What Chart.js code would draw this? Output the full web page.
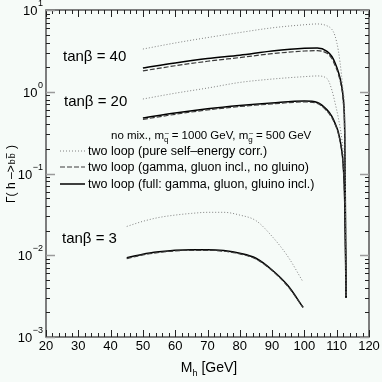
<!DOCTYPE html>
<html>
<head>
<meta charset="utf-8">
<script src="https://cdn.jsdelivr.net/npm/chart.js@4"></script>
<style>
  html, body { margin: 0; padding: 0; background: #f6fbf8; }
  #wrap { width: 382px; height: 382px; }
</style>
</head>
<body>
<div id="wrap"><canvas id="chart" width="382" height="382"></canvas></div>
<script>
// Higgs mass grids [GeV]
const massHigh = [50, 60, 70, 80, 90, 100, 104, 107, 108.5, 109.5, 110.5, 111.5, 112, 112.5, 112.9];
const massLow = [45, 50, 55, 60, 65, 70, 75, 80, 85, 90, 95, 99.6];

// Gamma(h -> b bbar) [GeV]
const tb40Pure = [3.33, 3.95, 4.6, 5.3, 6.05, 6.6, 6.75, 6.4, 5.8, 4.8, 3.2, 1.6, 1.0, 0.45, 0.003];
const tb40NoGluino = [1.8, 2.08, 2.36, 2.62, 2.92, 3.15, 3.18, 2.95, 2.55, 2.1, 1.65, 1.12, 0.78, 0.25, 0.003];
const tb40Full = [1.95, 2.25, 2.55, 2.8, 3.15, 3.4, 3.42, 3.12, 2.7, 2.25, 1.75, 1.2, 0.85, 0.3, 0.003];

const tb20Pure = [0.815, 0.96, 1.11, 1.3, 1.43, 1.53, 1.56, 1.45, 1.05, 0.73, 0.48, 0.28, 0.18, 0.06, 0.003];
const tb20NoGluino = [0.46, 0.53, 0.6, 0.66, 0.71, 0.75, 0.72, 0.58, 0.48, 0.4, 0.31, 0.195, 0.125, 0.04, 0.003];
const tb20Full = [0.477, 0.55, 0.62, 0.68, 0.73, 0.77, 0.74, 0.6, 0.5, 0.41, 0.32, 0.2, 0.13, 0.042, 0.003];

const tb3Pure = [0.0225, 0.026, 0.029, 0.031, 0.0325, 0.0335, 0.0335, 0.031, 0.0265, 0.017, 0.0095, 0.0047];
const tb3NoGluino = [0.0091, 0.0101, 0.0108, 0.0113, 0.0115, 0.0115, 0.0112, 0.0104, 0.009, 0.0065, 0.0041, 0.0023];
const tb3Full = [0.0093, 0.0103, 0.011, 0.0115, 0.0117, 0.0117, 0.0114, 0.0106, 0.0092, 0.0066, 0.0042, 0.0023];

const xTicks = [20, 30, 40, 50, 60, 70, 80, 90, 100, 110, 120];
const yDecades = [-3, -2, -1, 0, 1];
const tanbLabels = ['tanβ = 40', 'tanβ = 20', 'tanβ = 3'];
const legendLabels = [
  'two loop (pure self\u2013energy corr.)',
  'two loop (gamma, gluon incl., no gluino)',
  'two loop (full: gamma, gluon, gluino incl.)'
];

const FONT = '"Liberation Sans", Arial, Helvetica, sans-serif';
const BG = '#f6fbf8';

// line styles: pure, no gluino, full
const styles = [
  { borderColor: '#808080', borderWidth: 1, borderDash: [1, 2] },
  { borderColor: '#3a3a3a', borderWidth: 1.2, borderDash: [5, 2] },
  { borderColor: '#000000', borderWidth: 1.5, borderDash: [] }
];

function makeSet(label, xs, ys, styleIdx) {
  const s = styles[styleIdx];
  return {
    label: label,
    data: xs.map((m, i) => ({ x: m, y: ys[i] })),
    borderColor: s.borderColor,
    borderWidth: s.borderWidth,
    borderDash: s.borderDash,
    pointRadius: 0,
    fill: false,
    cubicInterpolationMode: 'monotone'
  };
}

function pow10(ctx, exp, xRight, y) {
  ctx.font = '9px ' + FONT;
  const e = String(exp).replace('-', '\u2212');
  const ew = ctx.measureText(e).width;
  ctx.textAlign = 'left';
  ctx.fillText(e, xRight - ew, y - 4);
  ctx.font = '13px ' + FONT;
  ctx.textAlign = 'right';
  ctx.fillText('10', xRight - ew - 0.5, y + 5);
}

const axesPlugin = {
  id: 'axesPlugin',
  beforeDraw(chart) {
    const ctx = chart.ctx;
    ctx.save();
    ctx.fillStyle = BG;
    ctx.fillRect(0, 0, chart.width, chart.height);
    ctx.restore();
  },
  afterDraw(chart) {
    const ctx = chart.ctx;
    const a = chart.chartArea;
    const xs = chart.scales.x;
    const ys = chart.scales.y;
    ctx.save();

    // frame
    ctx.strokeStyle = '#555';
    ctx.lineWidth = 1.5;
    ctx.strokeRect(a.left, a.top, a.right - a.left, a.bottom - a.top);

    // x ticks (inward, bottom and top)
    ctx.strokeStyle = '#222';
    ctx.lineWidth = 1;
    for (let v = 20; v <= 120; v += 2) {
      const px = Math.round(xs.getPixelForValue(v)) + 0.5;
      const len = v % 10 === 0 ? 7 : 4;
      ctx.beginPath();
      ctx.moveTo(px, a.bottom); ctx.lineTo(px, a.bottom - len);
      ctx.moveTo(px, a.top); ctx.lineTo(px, a.top + len);
      ctx.stroke();
    }

    // y ticks (inward, left and right)
    for (let d = -3; d <= 1; d++) {
      for (let k = 1; k <= 9; k++) {
        if (d === 1 && k > 1) break;
        const py = Math.round(ys.getPixelForValue(k * Math.pow(10, d))) + 0.5;
        const major = k === 1;
        ctx.strokeStyle = major ? '#9a9a9a' : '#222';
        ctx.lineWidth = major ? 1.5 : 1;
        const len = major ? 9 : 4;
        ctx.beginPath();
        ctx.moveTo(a.left, py); ctx.lineTo(a.left + len, py);
        ctx.moveTo(a.right, py); ctx.lineTo(a.right - len, py);
        ctx.stroke();
      }
    }

    // tick labels
    ctx.fillStyle = '#000';
    ctx.font = '13px ' + FONT;
    ctx.textAlign = 'center';
    ctx.textBaseline = 'alphabetic';
    xTicks.forEach(v => ctx.fillText(String(v), xs.getPixelForValue(v), 350));
    yDecades.forEach(d => pow10(ctx, d, 43, ys.getPixelForValue(Math.pow(10, d))));

    // x title: M_h [GeV]
    ctx.font = '14px ' + FONT;
    ctx.textAlign = 'left';
    const wM = ctx.measureText('M').width;
    const wG = ctx.measureText(' [GeV]').width;
    ctx.font = '9px ' + FONT;
    const wh = ctx.measureText('h').width;
    let tx = 209 - (wM + wh + wG) / 2;
    ctx.font = '14px ' + FONT;
    ctx.fillText('M', tx, 372);
    ctx.font = '9px ' + FONT;
    ctx.fillText('h', tx + wM, 376);
    ctx.font = '14px ' + FONT;
    ctx.fillText(' [GeV]', tx + wM + wh, 372);

    // y title: Gamma( h -> b bbar )
    ctx.save();
    ctx.translate(15, 174);
    ctx.rotate(-Math.PI / 2);
    const p1 = '\u0393( h \u2013>';
    const p3 = ' )';
    ctx.font = '12px ' + FONT;
    const w1 = ctx.measureText(p1).width;
    const w3 = ctx.measureText(p3).width;
    ctx.font = '9px ' + FONT;
    const wb = ctx.measureText('b').width;
    const w2 = wb * 2 + 3;
    let sx = -(w1 + w2 + w3) / 2;
    ctx.font = '12px ' + FONT;
    ctx.fillText(p1, sx, 0);
    ctx.font = '9px ' + FONT;
    ctx.fillText('b', sx + w1 + 1, 0);
    ctx.fillText('b', sx + w1 + 2 + wb, 0);
    ctx.lineWidth = 0.8;
    ctx.strokeStyle = '#000';
    ctx.beginPath();
    ctx.moveTo(sx + w1 + 2 + wb, -8.5); ctx.lineTo(sx + w1 + 2 + 2 * wb, -8.5);
    ctx.stroke();
    ctx.font = '12px ' + FONT;
    ctx.fillText(p3, sx + w1 + w2, 0);
    ctx.restore();

    // tan beta labels
    ctx.font = '15px ' + FONT;
    ctx.textAlign = 'left';
    ctx.fillText(tanbLabels[0], 63, 61);
    ctx.fillText(tanbLabels[1], 64, 106);
    ctx.fillText(tanbLabels[2], 62, 243);

    // parameter line: no mix., m_q~ = 1000 GeV, m_g~ = 500 GeV
    const parts = [
      ['no mix., m', 11.5, 0], ['q', 8, 3], [' = 1000 GeV, m', 11.5, 0], ['g', 8, 3], [' = 500 GeV', 11.5, 0]
    ];
    let px = 111;
    parts.forEach(p => {
      ctx.font = p[1] + 'px ' + FONT;
      ctx.fillText(p[0], px, 139 + p[2]);
      const w = ctx.measureText(p[0]).width;
      if (p[2]) {
        ctx.font = '8px ' + FONT;
        ctx.fillText('~', px + 0.5, 139 - 3);
      }
      px += w;
    });

    // legend
    const rows = [151, 167, 184];
    legendLabels.forEach((t, i) => {
      const s = styles[i];
      ctx.strokeStyle = s.borderColor;
      ctx.lineWidth = s.borderWidth;
      ctx.setLineDash(s.borderDash);
      ctx.beginPath();
      ctx.moveTo(60, rows[i]); ctx.lineTo(85, rows[i]);
      ctx.stroke();
      ctx.setLineDash([]);
      ctx.font = '12.5px ' + FONT;
      ctx.fillStyle = '#000';
      ctx.fillText(t, 88, rows[i] + 4);
    });

    ctx.restore();
  }
};

new Chart(document.getElementById('chart'), {
  type: 'line',
  data: {
    datasets: [
      makeSet('tanb=40 pure', massHigh, tb40Pure, 0),
      makeSet('tanb=40 no gluino', massHigh, tb40NoGluino, 1),
      makeSet('tanb=40 full', massHigh, tb40Full, 2),
      makeSet('tanb=20 pure', massHigh, tb20Pure, 0),
      makeSet('tanb=20 no gluino', massHigh, tb20NoGluino, 1),
      makeSet('tanb=20 full', massHigh, tb20Full, 2),
      makeSet('tanb=3 pure', massLow, tb3Pure, 0),
      makeSet('tanb=3 no gluino', massLow, tb3NoGluino, 1),
      makeSet('tanb=3 full', massLow, tb3Full, 2)
    ]
  },
  options: {
    responsive: false,
    animation: false,
    layout: {
      padding: { left: 46, right: 13, top: 10, bottom: 45 }
    },
    plugins: {
      legend: { display: false },
      tooltip: { enabled: false }
    },
    scales: {
      x: {
        type: 'linear',
        min: 20,
        max: 120,
        display: false
      },
      y: {
        type: 'logarithmic',
        min: 0.001,
        max: 10,
        display: false
      }
    }
  },
  plugins: [axesPlugin]
});
</script>
</body>
</html>
